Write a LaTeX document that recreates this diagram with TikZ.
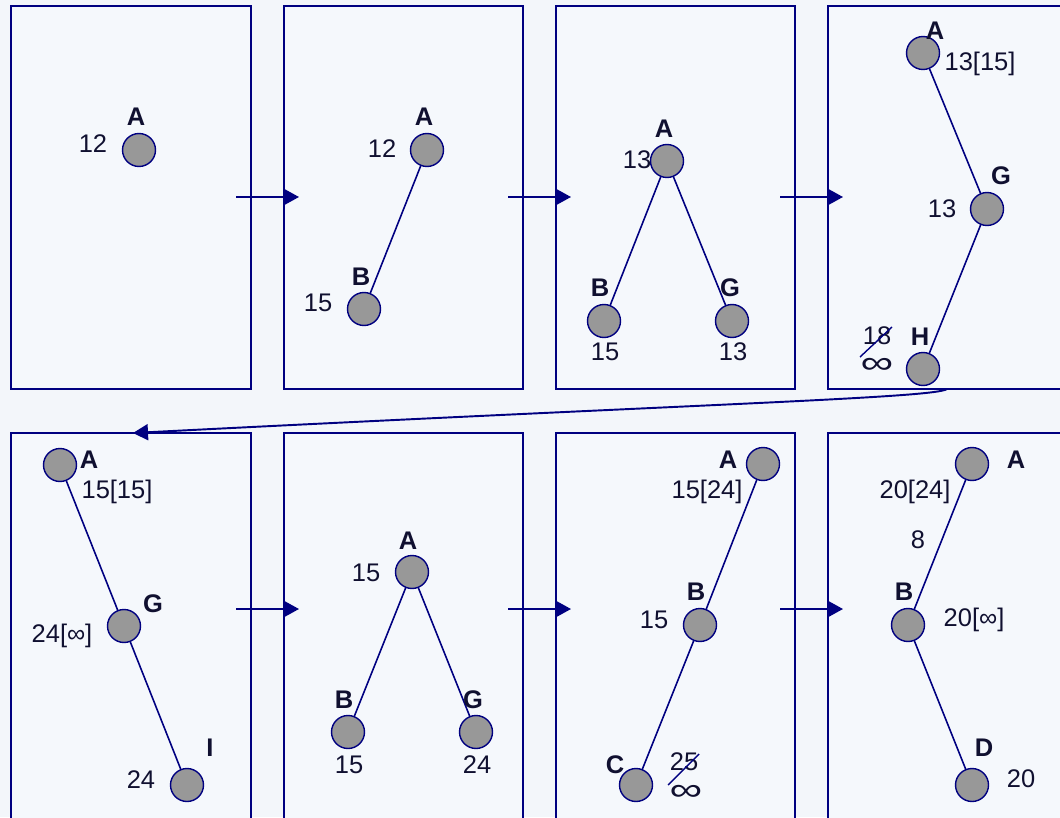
\documentclass[tikz,border=0pt]{standalone}
\usepackage{fontspec}
\setmainfont{Liberation Sans}
\usetikzlibrary{arrows.meta}
\definecolor{navy}{RGB}{0,0,128}
\definecolor{bg}{RGB}{243,246,250}
\definecolor{boxbg}{RGB}{245,248,252}
\definecolor{nodegray}{RGB}{152,152,152}
\definecolor{txt}{RGB}{16,16,48}
\newcommand{\wideinf}{\scalebox{1.45}[1]{∞}}
\begin{document}
\begin{tikzpicture}[x=0.02cm,y=-0.02cm,
  panel/.style={draw=navy,line width=1.1pt,fill=boxbg},
  vertex/.style={circle,draw=navy,line width=0.8pt,fill=nodegray,minimum size=0.66cm,inner sep=0pt},
  edge/.style={draw=navy,line width=0.9pt},
  vname/.style={font=\fontsize{14.5}{16}\selectfont\bfseries,text=txt,inner sep=0pt},
  val/.style={font=\fontsize{14.5}{16}\selectfont,text=txt,inner sep=0pt},
  inf/.style={font=\fontsize{18}{20}\selectfont,text=txt,inner sep=0pt},
  flow/.style={draw=navy,line width=1.1pt,-{Triangle[length=0.3cm,width=0.32cm]}},
  strike/.style={draw=navy,line width=0.8pt}]
\path[use as bounding box,fill=bg] (0,0) rectangle (1060,817);
\clip (0,0) rectangle (1060,817);
% panels
\draw[panel] (11,6) rectangle (251,389);
\draw[panel] (284,6) rectangle (523,389);
\draw[panel] (556,6) rectangle (795,389);
\draw[panel] (828,6) rectangle (1075,389);
\draw[panel] (11,433) rectangle (251,830);
\draw[panel] (284,433) rectangle (523,830);
\draw[panel] (556,433) rectangle (795,830);
\draw[panel] (828,433) rectangle (1075,830);
% arrow coordinates
\coordinate (r1s) at (236,197); \coordinate (r1e) at (299,197);
\coordinate (r2s) at (508,197); \coordinate (r2e) at (571,197);
\coordinate (r3s) at (780,197); \coordinate (r3e) at (843,197);
\coordinate (b1s) at (236,609); \coordinate (b1e) at (299,609);
\coordinate (b2s) at (508,609); \coordinate (b2e) at (571,609);
\coordinate (b3s) at (780,609); \coordinate (b3e) at (843,609);
\coordinate (cs) at (947,389); \coordinate (ce) at (133,433);
\draw[flow] (r1s) -- (r1e);
\draw[flow] (r2s) -- (r2e);
\draw[flow] (r3s) -- (r3e);
\draw[flow] (b1s) -- (b1e);
\draw[flow] (b2s) -- (b2e);
\draw[flow] (b3s) -- (b3e);
\draw[flow] (cs) .. controls (935,398) and (700,404) .. (ce);
% panel 1
\node[vertex] (p1A) at (139,150) {};
\node[vname] (p1Al) at (136,117) {A};
\node[val] (p1Av) at (93,144) {12};
% panel 2
\node[vertex] (p2A) at (427,150) {};
\node[vertex] (p2B) at (364,309) {};
\draw[edge] (p2A) -- (p2B);
\node[vname] (p2Al) at (424,117) {A};
\node[val] (p2Av) at (382,149) {12};
\node[vname] (p2Bl) at (361,277) {B};
\node[val] (p2Bv) at (318,303) {15};
% panel 3
\node[vertex] (p3A) at (667,161) {};
\node[vertex] (p3B) at (604,321) {};
\node[vertex] (p3G) at (732,321) {};
\draw[edge] (p3A) -- (p3B);
\draw[edge] (p3A) -- (p3G);
\node[vname] (p3Al) at (664,129) {A};
\node[val] (p3Av) at (637,160) {13};
\node[vname] (p3Bl) at (600,288) {B};
\node[val] (p3Bv) at (605,352) {15};
\node[vname] (p3Gl) at (730,288) {G};
\node[val] (p3Gv) at (733,352) {13};
% panel 4
\node[vertex] (p4A) at (923,53) {};
\node[vertex] (p4G) at (987,209) {};
\node[vertex] (p4H) at (923,369) {};
\draw[edge] (p4A) -- (p4G);
\draw[edge] (p4G) -- (p4H);
\node[vname] (p4Al) at (935,31) {A};
\node[val] (p4Av) at (980,64) {13[15]};
\node[vname] (p4Gl) at (1001,176) {G};
\node[val] (p4Gv) at (942,209) {13};
\node[vname] (p4Hl) at (920,337) {H};
\node[val] (p4Hv) at (877,336) {18};
\node[inf] (p4Hi) at (877,366) {\wideinf};
\coordinate (s1a) at (860,357); \coordinate (s1b) at (892,327);
\draw[strike] (s1a) -- (s1b);
% panel 5
\node[vertex] (p5A) at (60,465) {};
\node[vertex] (p5G) at (124,626) {};
\node[vertex] (p5I) at (187,785) {};
\draw[edge] (p5A) -- (p5G);
\draw[edge] (p5G) -- (p5I);
\node[vname] (p5Al) at (89,460) {A};
\node[val] (p5Av) at (117,492) {15[15]};
\node[vname] (p5Gl) at (153,604) {G};
\node[val] (p5Gv) at (62,636) {24[∞]};
\node[vname] (p5Il) at (210,748) {I};
\node[val] (p5Iv) at (141,780) {24};
% panel 6
\node[vertex] (p6A) at (412,572) {};
\node[vertex] (p6B) at (348,732) {};
\node[vertex] (p6G) at (476,732) {};
\draw[edge] (p6A) -- (p6B);
\draw[edge] (p6A) -- (p6G);
\node[vname] (p6Al) at (408,541) {A};
\node[val] (p6Av) at (366,573) {15};
\node[vname] (p6Bl) at (344,700) {B};
\node[val] (p6Bv) at (349,765) {15};
\node[vname] (p6Gl) at (473,700) {G};
\node[val] (p6Gv) at (477,765) {24};
% panel 7
\node[vertex] (p7A) at (763,464) {};
\node[vertex] (p7B) at (700,625) {};
\node[vertex] (p7C) at (636,785) {};
\draw[edge] (p7A) -- (p7B);
\draw[edge] (p7B) -- (p7C);
\node[vname] (p7Al) at (728,460) {A};
\node[val] (p7Av) at (707,492) {15[24]};
\node[vname] (p7Bl) at (696,592) {B};
\node[val] (p7Bv) at (654,620) {15};
\node[vname] (p7Cl) at (615,765) {C};
\node[val] (p7Cv) at (684,762) {25};
\node[inf] (p7Ci) at (686,793) {\wideinf};
\coordinate (s2a) at (668,785); \coordinate (s2b) at (699,754);
\draw[strike] (s2a) -- (s2b);
% panel 8
\node[vertex] (p8A) at (972,464) {};
\node[vertex] (p8B) at (908,625) {};
\node[vertex] (p8D) at (972,785) {};
\draw[edge] (p8A) -- (p8B);
\draw[edge] (p8B) -- (p8D);
\node[vname] (p8Al) at (1016,460) {A};
\node[val] (p8Av) at (915,492) {20[24]};
\node[val] (p8w) at (918,540) {8};
\node[vname] (p8Bl) at (904,592) {B};
\node[val] (p8Bv) at (974,620) {20[∞]};
\node[vname] (p8Dl) at (984,748) {D};
\node[val] (p8Dv) at (1021,779) {20};
\end{tikzpicture}
\end{document}
